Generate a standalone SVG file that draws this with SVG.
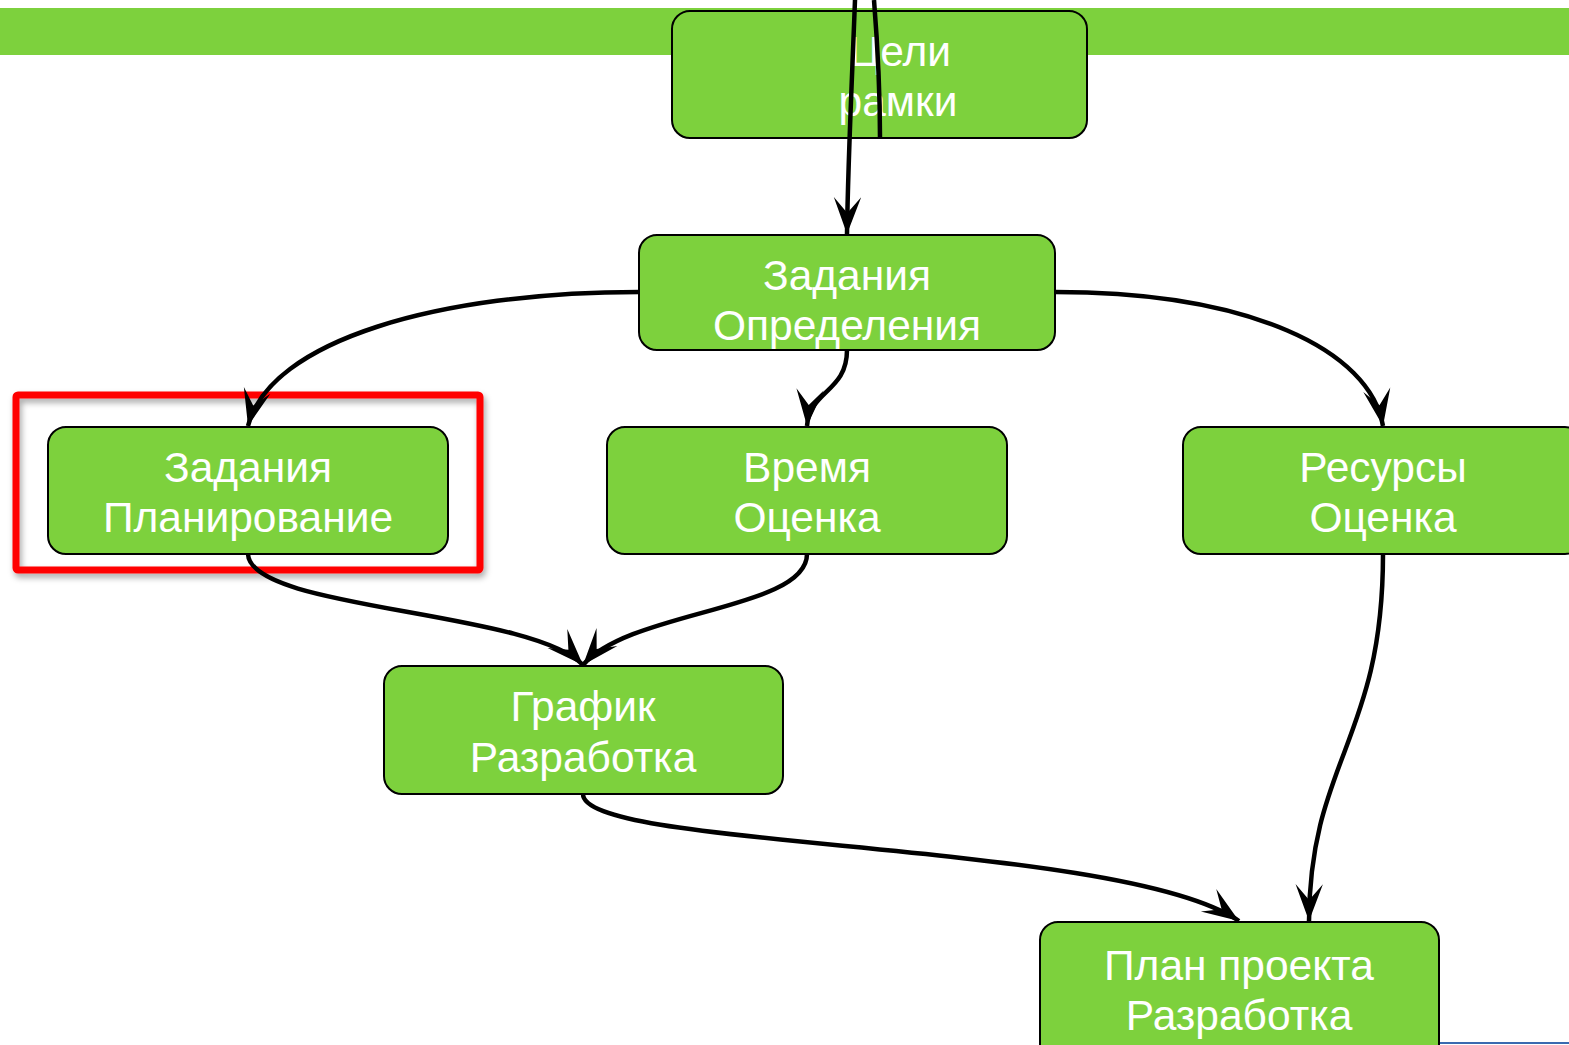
<svg xmlns="http://www.w3.org/2000/svg" width="1569" height="1045" viewBox="0 0 1569 1045">
<style>
.node{fill:#7dd13d;stroke:#000;stroke-width:2}
.lbl{font-family:"Liberation Sans",Arial,sans-serif;font-size:42.5px;fill:#fff;text-anchor:middle}
.conn{fill:none;stroke:#000;stroke-width:4.5}
</style>
<defs>
<marker id="arr" markerUnits="userSpaceOnUse" markerWidth="40" markerHeight="32" viewBox="-36 -15 38 30" refX="0" refY="0" orient="auto">
<path d="M0,0 L-35,-13 L-20,0 L-35,13 Z" fill="#000"/>
</marker>
<filter id="sh" x="-10%" y="-10%" width="120%" height="130%">
<feDropShadow dx="2" dy="4" stdDeviation="3" flood-color="#000" flood-opacity="0.35"/>
</filter>
</defs>
<rect width="1569" height="1045" fill="#fff"/>
<rect x="0" y="8" width="1569" height="47" fill="#7dd13d"/>
<line x1="1432" y1="1043" x2="1569" y2="1043" stroke="#3a6ab0" stroke-width="2"/>
<rect x="16" y="395" width="464" height="175" rx="2" fill="none" stroke="#ff0000" stroke-width="7" filter="url(#sh)"/>
<g id="goals"><rect class="node" x="672" y="11" width="415" height="127" rx="18"/><text class="lbl" x="900" y="66">Цели</text><text class="lbl" x="898" y="116">рамки</text></g>
<g id="tasks-def"><rect class="node" x="639" y="235" width="416" height="115" rx="18"/><text class="lbl" x="847" y="290">Задания</text><text class="lbl" x="847" y="340">Определения</text></g>
<g id="tasks-plan"><rect class="node" x="48" y="427" width="400" height="127" rx="18"/><text class="lbl" x="248" y="482">Задания</text><text class="lbl" x="248" y="532">Планирование</text></g>
<g id="time-est"><rect class="node" x="607" y="427" width="400" height="127" rx="18"/><text class="lbl" x="807" y="482">Время</text><text class="lbl" x="807" y="532">Оценка</text></g>
<g id="res-est"><rect class="node" x="1183" y="427" width="400" height="127" rx="18"/><text class="lbl" x="1383" y="482">Ресурсы</text><text class="lbl" x="1383" y="532">Оценка</text></g>
<g id="schedule"><rect class="node" x="384" y="666" width="399" height="128" rx="18"/><text class="lbl" x="583" y="721">График</text><text class="lbl" x="583" y="772">Разработка</text></g>
<g id="project-plan"><rect class="node" x="1040" y="922" width="399" height="140" rx="18"/><text class="lbl" x="1239" y="980">План проекта</text><text class="lbl" x="1239" y="1030">Разработка</text></g>
<g id="connectors">
<path class="conn" d="M855,0 C852,80 848,160 847,234" marker-end="url(#arr)"/>
<path class="conn" d="M874,0 C878,50 880,100 880,138"/>
<path class="conn" d="M639,292 C440,292 270,340 248,426" marker-end="url(#arr)"/>
<path class="conn" d="M847,350 C847,392 810,390 807,426" marker-end="url(#arr)"/>
<path class="conn" d="M1055,292 C1250,292 1370,350 1383,426" marker-end="url(#arr)"/>
<path class="conn" d="M248,554 C250,610 530,610 583,665" marker-end="url(#arr)"/>
<path class="conn" d="M807,554 C807,610 630,610 583,665" marker-end="url(#arr)"/>
<path class="conn" d="M583,794 C583,850 1120,840 1239,921" marker-end="url(#arr)"/>
<path class="conn" d="M1383,554 C1383,740 1310,760 1309,921" marker-end="url(#arr)"/>
</g>
</svg>
